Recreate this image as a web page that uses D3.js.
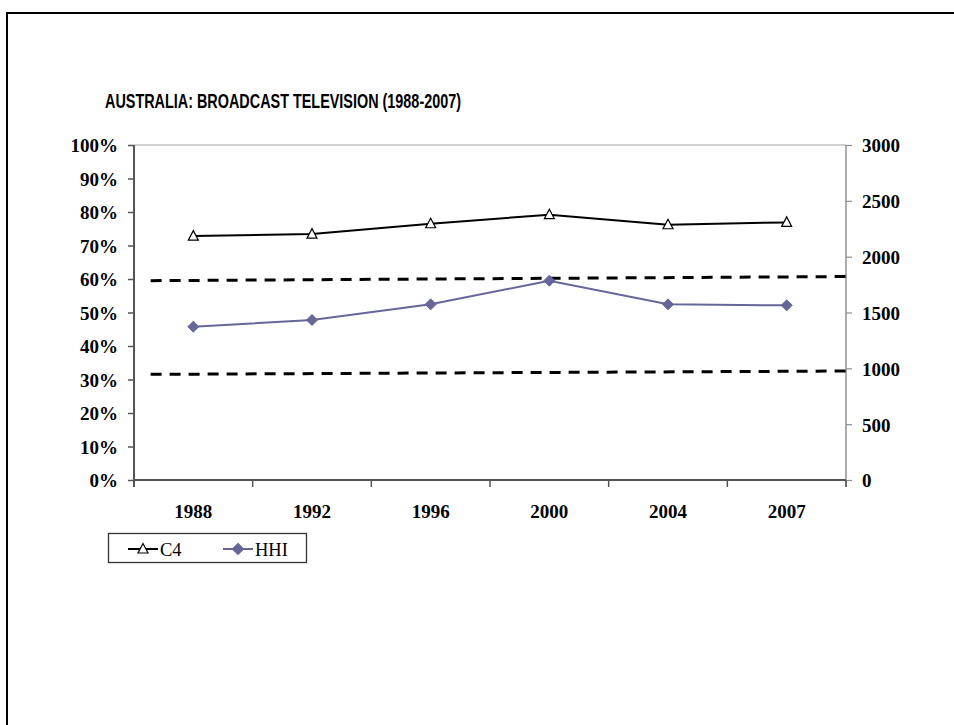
<!DOCTYPE html>
<html>
<head>
<meta charset="utf-8">
<script src="https://cdn.jsdelivr.net/npm/d3@7"></script>
<style>
  html, body { margin: 0; padding: 0; background: #fff; }
  svg { display: block; }
</style>
</head>
<body>
<svg id="chart" width="954" height="725"></svg>
<script>
// ---- data ----
const years = ["1988", "1992", "1996", "2000", "2004", "2007"];
const c4Values = [0.728, 0.734, 0.765, 0.792, 0.762, 0.769];       // left axis (share)
const hhiValues = [1373, 1433, 1573, 1785, 1573, 1564];             // right axis (index)
const leftTicks = [0, 0.1, 0.2, 0.3, 0.4, 0.5, 0.6, 0.7, 0.8, 0.9, 1.0];
const rightTicks = [0, 500, 1000, 1500, 2000, 2500, 3000];
// threshold reference lines (right-axis units), x in category units from the left axis
const refLineStart = [0.14, 0.14];
const refLineEnd = [6, 6];
const refLineFromValue = [1785, 946];
const refLineToValue = [1822, 976];
const seriesNames = ["C4", "HHI"];
const titleText = "AUSTRALIA: BROADCAST TELEVISION (1988-2007)";

// ---- layout ----
const svg = d3.select("#chart");
const L = 134, R = 846, T = 145, B = 480;
const hhiColor = "#666699";
const axisColor = "#555555";
const serif = "'Liberation Serif', 'Times New Roman', serif";

// frame
svg.append("path")
  .attr("d", `M7,725 L7,13 L954,13`)
  .attr("fill", "none").attr("stroke", "#000").attr("stroke-width", 2);

// title
svg.append("text")
  .attr("x", 105).attr("y", 108)
  .attr("font-family", "'Liberation Sans', Arial, sans-serif")
  .attr("font-weight", "bold").attr("font-size", 20)
  .attr("textLength", 356).attr("lengthAdjust", "spacingAndGlyphs")
  .text(titleText);

// scales
const x = d3.scaleBand().domain(years).range([L, R]).padding(0);
const xc = d3.scaleLinear().domain([0, years.length]).range([L, R]);
const yL = d3.scaleLinear().domain([0, 1]).range([B, T]);
const yR = d3.scaleLinear().domain([0, 3000]).range([B, T]);

// plot frame top (light gray)
svg.append("line").attr("x1", L).attr("x2", R).attr("y1", T).attr("y2", T)
  .attr("stroke", "#a0a0a0").attr("stroke-width", 1);

// left axis
const gL = svg.append("g").attr("transform", `translate(${L},0)`)
  .call(d3.axisLeft(yL).tickValues(leftTicks).tickFormat(d3.format(".0%")).tickSize(6).tickPadding(10));
gL.select(".domain").attr("stroke", axisColor).attr("stroke-width", 2).attr("d", `M0,${T}V${B + 7}`);
gL.selectAll(".tick line").attr("stroke", axisColor).attr("stroke-width", 1.5);
gL.selectAll(".tick text").attr("font-family", serif).attr("font-weight", "bold")
  .attr("font-size", 19).attr("fill", "#000").attr("dy", "0.36em");

// right axis
const gR = svg.append("g").attr("transform", `translate(${R},0)`)
  .call(d3.axisRight(yR).tickValues(rightTicks).tickFormat(d3.format("d")).tickSize(6).tickPadding(10));
gR.select(".domain").attr("stroke", "#909090").attr("stroke-width", 1.5).attr("d", `M0,${T}V${B + 7}`);
gR.selectAll(".tick line").attr("stroke", "#909090").attr("stroke-width", 1.2);
gR.selectAll(".tick text").attr("font-family", serif).attr("font-weight", "bold")
  .attr("font-size", 19).attr("fill", "#000").attr("dy", "0.36em");

// bottom axis with ticks between categories
const gB = svg.append("g").attr("transform", `translate(0,${B})`);
gB.append("line").attr("x1", L).attr("x2", R).attr("y1", 0).attr("y2", 0)
  .attr("stroke", axisColor).attr("stroke-width", 2);
gB.selectAll("line.tk").data(d3.range(1, years.length + 1)).join("line")
  .attr("class", "tk")
  .attr("x1", d => xc(d)).attr("x2", d => xc(d)).attr("y1", 0).attr("y2", 7)
  .attr("stroke", axisColor).attr("stroke-width", 1.5);
gB.selectAll("text").data(years).join("text")
  .attr("x", d => x(d) + x.bandwidth() / 2).attr("y", 38)
  .attr("text-anchor", "middle")
  .attr("font-family", serif).attr("font-weight", "bold").attr("font-size", 19)
  .text(d => d);

// reference dashed lines
svg.selectAll("line.ref").data(refLineStart).join("line")
  .attr("class", "ref")
  .attr("x1", (d, i) => xc(refLineStart[i])).attr("x2", (d, i) => xc(refLineEnd[i]))
  .attr("y1", (d, i) => yR(refLineFromValue[i])).attr("y2", (d, i) => yR(refLineToValue[i]))
  .attr("stroke", "#000").attr("stroke-width", 3).attr("stroke-dasharray", "11,8");

const cx = d => x(d) + x.bandwidth() / 2;

// C4 line
svg.append("path")
  .datum(years.map((y, i) => [cx(y), yL(c4Values[i])]))
  .attr("d", d3.line())
  .attr("fill", "none").attr("stroke", "#000").attr("stroke-width", 2);
// HHI line
svg.append("path")
  .datum(years.map((y, i) => [cx(y), yR(hhiValues[i])]))
  .attr("d", d3.line())
  .attr("fill", "none").attr("stroke", hhiColor).attr("stroke-width", 2);

const triPath = "M0,-5.5 L5,4 L-5,4 Z";
const diaPath = "M0,-5.5 L5.5,0 L0,5.5 L-5.5,0 Z";

svg.selectAll("path.tri").data(years).join("path")
  .attr("class", "tri")
  .attr("transform", (d, i) => `translate(${cx(d)},${yL(c4Values[i])})`)
  .attr("d", triPath).attr("fill", "#fff").attr("stroke", "#000").attr("stroke-width", 1.2);

svg.selectAll("path.dia").data(years).join("path")
  .attr("class", "dia")
  .attr("transform", (d, i) => `translate(${cx(d)},${yR(hhiValues[i])})`)
  .attr("d", diaPath).attr("fill", hhiColor).attr("stroke", hhiColor).attr("stroke-width", 1);

// legend
const lg = svg.append("g");
lg.append("rect").attr("x", 108.5).attr("y", 533.5).attr("width", 198).attr("height", 29)
  .attr("fill", "#fff").attr("stroke", "#333").attr("stroke-width", 1.3);
const legendItems = [
  { name: seriesNames[0], x0: 128, color: "#000", marker: triPath, fill: "#fff" },
  { name: seriesNames[1], x0: 223, color: hhiColor, marker: diaPath, fill: hhiColor }
];
legendItems.forEach(it => {
  lg.append("line").attr("x1", it.x0).attr("x2", it.x0 + 30).attr("y1", 549).attr("y2", 549)
    .attr("stroke", it.color).attr("stroke-width", 2);
  lg.append("path").attr("transform", `translate(${it.x0 + 15},${549})`)
    .attr("d", it.marker).attr("fill", it.fill).attr("stroke", it.color).attr("stroke-width", 1.2);
  lg.append("text").attr("x", it.x0 + 32).attr("y", 556)
    .attr("font-family", serif).attr("font-size", 18.5).text(it.name);
});
</script>
</body>
</html>
